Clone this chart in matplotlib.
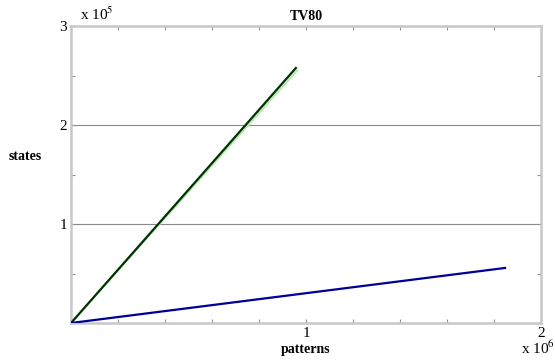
import matplotlib
matplotlib.use("Agg")
import matplotlib.pyplot as plt
from matplotlib.ticker import MultipleLocator, FixedLocator, FixedFormatter

plt.rcParams['font.family'] = ['Liberation Serif', 'DejaVu Serif']

# data (patterns, states)
green_x = [0, 0.957e6]
green_y = [0, 2.576e5]
green_light_x = [0, 0.962e6]
green_light_y = [0, 2.55e5]
blue_x = [0, 1.847e6]
blue_y = [0, 0.556e5]
xtick_vals = [1e6, 2e6]
xtick_labels = ["1", "2"]
ytick_vals = [1e5, 2e5, 3e5]
ytick_labels = ["1", "2", "3"]
grid_vals = [1e5, 2e5]

fig = plt.figure(figsize=(5.55, 3.6), dpi=100)
ax = fig.add_axes([71/555, 1-323/360, 470/555, 297/360])
ax.set_xlim(0, 2e6)
ax.set_ylim(0, 3e5)

for g in grid_vals:
    ax.axhline(g, color='#8a8a8a', lw=0.8, zorder=1)

ax.plot(green_light_x, green_light_y, color='#b8e8b0', lw=1.4, zorder=2)
ax.plot(green_x, green_y, color='#003300', lw=1.6, zorder=3)
ax.plot(blue_x, blue_y, color='#000099', lw=1.6, zorder=3)

for s in ax.spines.values():
    s.set_color('#c8c8c8')
    s.set_linewidth(1.8)

ax.xaxis.set_minor_locator(MultipleLocator(0.2e6))
ax.yaxis.set_minor_locator(MultipleLocator(0.5e5))
ax.xaxis.set_major_locator(FixedLocator(xtick_vals))
ax.xaxis.set_major_formatter(FixedFormatter(xtick_labels))
ax.yaxis.set_major_locator(FixedLocator(ytick_vals))
ax.yaxis.set_major_formatter(FixedFormatter(ytick_labels))
ax.tick_params(which='both', direction='in', top=True, right=True, color='#909090',
               length=3, width=0.8, labelsize=11, pad=3)

ax.set_title("TV80", fontsize=10, fontweight='bold', pad=4)
ax.set_xlabel("patterns", fontsize=10, fontweight='bold', labelpad=2)
ax.set_ylabel("states", fontsize=10, fontweight='bold', rotation=0, labelpad=0)
ax.yaxis.set_label_coords(-0.098, 0.54)

fig.text(80/555, 1-14/360, r"x 10$^{5}$", fontsize=11, va='center', ha='left',
         math_fontfamily='stix')
fig.text(521/555, 1-348/360, r"x 10$^{6}$", fontsize=11, va='center', ha='left',
         math_fontfamily='stix')

fig.savefig("out.png", dpi=100)
